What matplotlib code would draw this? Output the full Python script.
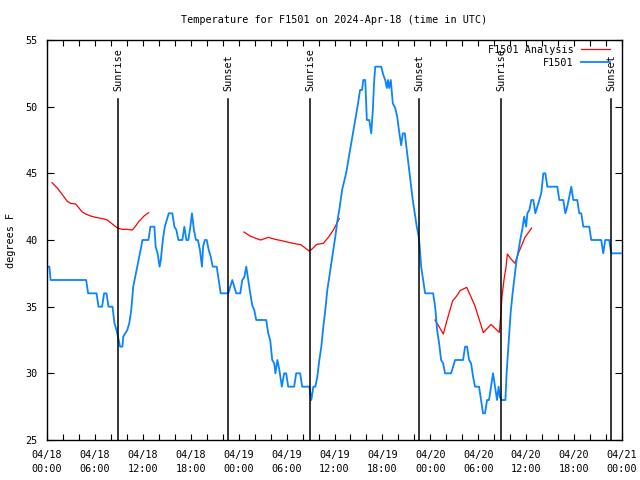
import numpy as np
import matplotlib
matplotlib.use("Agg")
import matplotlib.pyplot as plt
from datetime import datetime, timedelta

# hours since 2024-04-18 00:00 UTC
obs_hours = [0.0, 0.3, 0.45, 4.9, 5.15, 6.2, 6.45, 6.9, 7.15, 7.45, 7.7, 8.2, 8.45, 8.7, 8.93,
             9.15, 9.45, 9.55, 9.8, 10.05, 10.3, 10.55, 10.8, 11.05, 11.3, 11.55, 11.8, 11.95,
             12.7, 12.95, 13.45, 13.6, 13.85, 14.1, 14.25, 14.5, 14.75, 15.0, 15.25, 15.7, 15.95,
             16.2, 16.45, 16.95, 17.2, 17.45, 17.7, 17.95, 18.15, 18.4, 18.65, 18.9, 19.15, 19.4,
             19.55, 19.75, 20.0, 20.25, 20.5, 20.75, 21.25, 21.5, 21.75, 22.7, 22.95, 23.2, 23.45,
             23.7, 24.2, 24.45, 24.7, 24.95, 25.2, 25.45, 25.7, 25.95, 26.2, 27.45, 27.7, 27.95,
             28.2, 28.45, 28.6, 28.85, 29.1, 29.4, 29.7, 29.95, 30.2, 30.95, 31.2, 31.7, 31.95,
             32.85, 33.1, 33.35, 33.6, 33.85, 34.1, 34.35, 34.6, 34.85, 35.1, 35.35, 35.6, 35.85,
             36.1, 36.35, 36.6, 36.95, 37.45, 37.95, 38.45, 38.95, 39.2, 39.45, 39.6, 39.85, 40.05,
             40.35, 40.6, 40.8, 40.95, 41.1, 41.85, 42.1, 42.35, 42.55, 42.7, 42.85, 43.05, 43.3,
             43.6, 43.85, 44.1, 44.35, 44.55, 44.8, 45.05, 45.3, 45.55, 45.8, 46.05, 46.3, 46.55,
             46.7, 46.85, 47.1, 47.35, 48.35, 48.6, 48.85, 49.1, 49.35, 49.6, 49.85, 50.6, 51.1,
             52.1, 52.35, 52.6, 52.85, 53.1, 53.35, 53.6, 54.1, 54.35, 54.6, 54.85, 55.1, 55.35,
             55.6, 55.85, 56.1, 56.35, 56.55, 56.7, 56.9, 57.4, 57.55, 57.8, 58.05, 58.3, 58.55,
             58.8, 59.05, 59.25, 59.5, 59.75, 60.0, 60.15, 60.4, 60.65, 60.9, 61.15, 61.4, 61.65,
             61.9, 62.15, 62.4, 62.65, 63.9, 64.15, 64.65, 64.9, 65.15, 65.4, 65.65, 65.9, 66.4,
             66.65, 66.9, 67.15, 67.9, 68.15, 69.4, 69.65, 69.9, 70.4, 70.65, 71.85]
obs_temps = [38, 38, 37, 37, 36, 36, 35, 35, 36, 36, 35, 35, 33.75, 33.25, 32.6,
             32, 32, 32.75, 33, 33.25, 33.75, 34.75, 36.5, 37.25, 38, 38.75, 39.5, 40,
             40, 41, 41, 39.5, 39, 38, 38.5, 40, 41, 41.5, 42, 42, 41,
             40.75, 40, 40, 41, 40, 40, 41, 42, 40.75, 40, 40, 39.25, 38,
             39.5, 40, 40, 39.25, 38.75, 38, 38, 37, 36, 36, 36.5, 37, 36.5,
             36, 36, 37, 37.2, 38, 37, 36, 35.1, 34.75, 34, 34, 33, 32.5,
             31, 30.75, 30, 31, 30.25, 29, 30, 30, 29, 29, 30, 30, 29,
             29, 28, 29, 29, 29.75, 31, 32, 33.5, 34.75, 36.25, 37.25, 38.25, 39.25,
             40.25, 41.4, 42.25, 43.75, 45, 46.75, 48.5, 50.25, 51.25, 51.25, 52, 52, 49,
             49, 48, 49.75, 51.75, 53, 53, 52.4, 52, 51.4, 52, 51.4, 52, 50.25,
             49.9, 49.25, 48.1, 47.1, 48, 48, 46.75, 45.5, 44.25, 43, 42, 41, 40.25,
             39.25, 38, 37, 36, 36, 35, 33.25, 32.25, 31, 30.75, 30, 30, 31,
             31, 32, 32, 31, 30.75, 29.75, 29, 29, 28, 27, 27, 28, 28,
             29, 30, 29, 28, 29, 28.25, 28, 28, 30, 32.25, 34.5, 36, 37.25,
             38.5, 39.25, 40, 40.75, 41.75, 41, 42, 42.25, 43, 43, 42, 42.5, 43,
             43.55, 45, 45, 44, 44, 43, 43, 42, 42.5, 43.25, 44, 43, 43,
             42, 42, 41, 41, 40, 40, 39, 40, 40, 39, 39]

# analysis series, nan marks the gaps
ana_hours = [0.63, 1.29, 1.92, 2.55, 2.96, 3.59, 4.0, 4.42, 4.84, 5.47, 6.09, 6.93, 7.55, 7.97,
             8.39, 8.81, 9.43, 9.97, 10.69, 11.1, 11.52, 12.15, 12.73, np.nan,
             24.67, 25.42, 26.26, 26.76, 27.72, 28.55, 29.39, 30.43, 31.26, 31.77, 32.85, 33.14,
             33.77, 34.6, 35.23, 35.85, 36.6, np.nan,
             48.58, 49.0, 49.62, 50.05, 50.46, 50.8, 51.3, 51.72, 52.55, 52.97, 53.59, 54.14,
             54.64, 55.6, 56.64, 56.81, 56.97, 57.22, 57.48, 57.64, 58.06, 58.6, 59.02, 59.44,
             59.85, 60.27, 60.69]
ana_temps = [44.3, 43.9, 43.4, 42.9, 42.75, 42.7, 42.4, 42.1, 41.95, 41.8, 41.7, 41.6, 41.5, 41.3,
             41.1, 40.9, 40.8, 40.8, 40.75, 41.05, 41.4, 41.8, 42.05, np.nan,
             40.6, 40.3, 40.1, 40.0, 40.2, 40.05, 39.95, 39.8, 39.7, 39.65, 39.17, 39.3,
             39.67, 39.75, 40.2, 40.75, 41.6, np.nan,
             34.0, 33.6, 32.95, 33.9, 34.75, 35.45, 35.8, 36.2, 36.45, 35.9, 35.05, 34.0,
             33.05, 33.67, 33.07, 34.25, 35.75, 37.0, 38.0, 38.95, 38.6, 38.25, 39.0, 39.6,
             40.2, 40.55, 40.9]

event_hours = [8.93, 22.70, 32.97, 46.62, 56.89, 70.66]
event_labels = ["Sunrise", "Sunset", "Sunrise", "Sunset", "Sunrise", "Sunset"]

start = datetime(2024, 4, 18)

plt.rcParams['font.family'] = ['DejaVu Sans Mono']
plt.rcParams['font.size'] = 7.3

fig = plt.figure(figsize=(6.4, 4.8), dpi=100)
ax = fig.add_axes([47/640, 40/480, 575/640, 400/480])

ax.plot(ana_hours, ana_temps, color='#ff0000', lw=0.9, label='F1501 Analysis')
ax.plot(obs_hours, obs_temps, color='#0a84ff', lw=1.3, label='F1501')

for h, lab in zip(event_hours, event_labels):
    ax.axvline(h, ymin=0, ymax=0.852, color='black', lw=1.1)
    ax.text(h, 0.872, lab, rotation=90, ha='center', va='bottom',
            transform=ax.get_xaxis_transform())

ax.set_xlim(0, 72)
ax.set_ylim(25, 55)
ax.set_xticks(np.arange(0, 73, 2))
xlabels = []
for h in range(0, 73, 2):
    if h % 6 == 0:
        xlabels.append((start + timedelta(hours=h)).strftime('%m/%d\n%H:%M'))
    else:
        xlabels.append('')
ax.set_xticklabels(xlabels)
for t in ax.get_xticklabels():
    t.set_linespacing(1.55)
ax.set_yticks(np.arange(25, 56, 5))
ax.tick_params(axis='x', direction='in', length=4, width=0.8, top=True, pad=7)
ax.tick_params(axis='y', direction='in', length=5, width=0.8, right=True, pad=7)
for s in ax.spines.values():
    s.set_linewidth(1.0)

ax.legend(loc='upper right', bbox_to_anchor=(0.979, 0.9875), frameon=False,
          markerfirst=False, borderpad=0, borderaxespad=0, handlelength=2.9,
          handletextpad=0.7, labelspacing=0.25)

fig.text(334.5/640, 1 - 20/480, 'Temperature for F1501 on 2024-Apr-18 (time in UTC)',
         ha='center', va='center')
fig.text(11/640, 0.5, 'degrees F', rotation=90, ha='center', va='center')

fig.savefig('out.png', dpi=100)
